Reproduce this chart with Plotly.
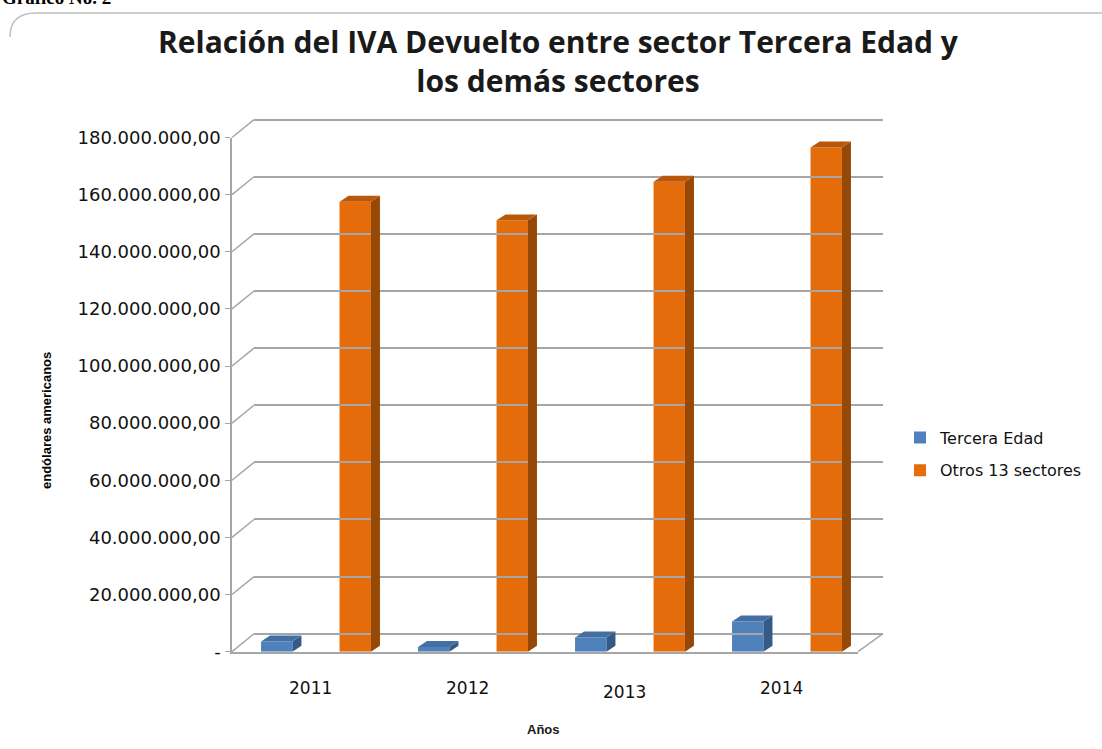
import plotly.graph_objects as go

# ---- data ----
years = ["2011", "2012", "2013", "2014"]
tercera_edad = [3.6e6, 1.6e6, 5.0e6, 10.6e6]
otros_sectores = [157.5e6, 151.0e6, 164.5e6, 176.5e6]
series_names = ["Tercera Edad", "Otros 13 sectores"]
y_tickvals = [0, 20e6, 40e6, 60e6, 80e6, 100e6, 120e6, 140e6, 160e6, 180e6]
y_ticktext = ["-", "20.000.000,00", "40.000.000,00", "60.000.000,00", "80.000.000,00",
              "100.000.000,00", "120.000.000,00", "140.000.000,00", "160.000.000,00",
              "180.000.000,00"]

W, H = 1102, 749
YMAX = 180e6
VS, VO = 0.9755, 10.0  # observed vertical mapping of the renderer


def px_x(p):
    return p / W


def dy_px(p):
    return (p - VO) / VS


def px_y(p):
    return 1 - dy_px(p) / H


# front plane and back wall (target pixel geometry)
front_x = (232, 858)
front_y = (653, 137)
back_x = (254, 883)
back_y = (635, 119)
unit_px = 157.0
x0_data = (front_x[0] - 316) / unit_px
x1_data = (front_x[1] - 316) / unit_px
px_per_val = (front_y[0] - front_y[1]) / YMAX

bar_w = 0.2
dx = 9 / unit_px
dy = 6 / px_per_val

colors = {
    "Tercera Edad": ("#4f81bd", "#436fa3", "#355a86"),
    "Otros 13 sectores": ("#e46c0a", "#b95808", "#974706"),
}

fig = go.Figure()

# back wall subplot (gridlines only)
fig.add_trace(go.Scatter(x=[0], y=[0], xaxis="x2", yaxis="y2", mode="markers",
                         marker=dict(opacity=0), showlegend=False, hoverinfo="skip"))

shapes = []
offsets = [-0.25, 0.25]
for s, (name, vals) in enumerate(zip(series_names, [tercera_edad, otros_sectores])):
    front, top, side = colors[name]
    xs = [i + offsets[s] for i in range(len(years))]
    for xc, v in zip(xs, vals):
        xl, xr = xc - bar_w / 2, xc + bar_w / 2
        shapes.append(dict(type="path", xref="x", yref="y", layer="above",
                           path=f"M {xr} 0 L {xr+dx} {dy} L {xr+dx} {v+dy} L {xr} {v} Z",
                           fillcolor=side, line=dict(width=0)))
        shapes.append(dict(type="path", xref="x", yref="y", layer="above",
                           path=f"M {xl} {v} L {xl+dx} {v+dy} L {xr+dx} {v+dy} L {xr} {v} Z",
                           fillcolor=top, line=dict(width=0)))
    fig.add_trace(go.Bar(x=xs, y=vals, width=bar_w, name=name, marker_color=front,
                         marker_line_width=0, legendgroup=name))

# diagonal connectors from front axis ticks to back wall
fy0, fy1 = px_y(front_y[0]), px_y(front_y[1])
by0, by1 = px_y(back_y[0]), px_y(back_y[1])
pad = 3
pad_val = pad / px_per_val
for v in y_tickvals:
    yf = fy0 + (v / YMAX) * (fy1 - fy0)
    yb = by0 + (v / YMAX) * (by1 - by0)
    shapes.append(dict(type="line", xref="paper", yref="paper",
                       x0=px_x(front_x[0]), y0=yf, x1=px_x(back_x[0]), y1=yb,
                       line=dict(color="#a6a6a6", width=1.5), layer="below"))
# floor right edge
shapes.append(dict(type="line", xref="paper", yref="paper",
                   x0=px_x(front_x[1]), y0=fy0, x1=px_x(back_x[1]), y1=by0,
                   line=dict(color="#a6a6a6", width=1.5), layer="below"))
# chart frame top line
shapes.append(dict(type="path", xref="paper", yref="paper",
                   path=f"M {px_x(10)} {px_y(36)} Q {px_x(10)} {px_y(12)} {px_x(36)} {px_y(12)} L {px_x(1102)} {px_y(12)}",
                   line=dict(color="#bfbfbf", width=1.5), layer="below"))

annotations = [
    dict(text="endólares americanos", x=px_x(37), y=px_y(421), xref="paper", yref="paper",
         textangle=-90, showarrow=False, yanchor="middle",
         font=dict(family="Liberation Sans Narrow, Liberation Sans", size=13, color="#000000", weight="bold")),
    dict(text="Años", x=px_x(543), y=px_y(731), xref="paper", yref="paper", showarrow=False,
         yanchor="middle",
         font=dict(family="Liberation Sans Narrow, Liberation Sans", size=13, color="#1a1a1a", weight="bold")),
    dict(text="Gráfico No. 2", x=0, y=px_y(9), xref="paper", yref="paper", xanchor="left",
         yanchor="bottom", showarrow=False,
         font=dict(family="Liberation Serif", size=19, color="#000000", weight="bold")),
]
label_y = [689, 689, 693, 689]
for i, (yr, ly) in enumerate(zip(years, label_y)):
    annotations.append(dict(text=yr, x=i, xref="x", y=px_y(ly), yref="paper", xshift=-6,
                            yanchor="middle", showarrow=False,
                            font=dict(family="DejaVu Sans", size=17, color="#111111")))

fig.update_layout(
    width=W, height=H,
    margin=dict(l=0, r=0, t=0, b=0),
    paper_bgcolor="white", plot_bgcolor="rgba(0,0,0,0)",
    title=dict(text="<b>Relación del IVA Devuelto entre sector Tercera Edad y<br>los demás sectores</b>",
               x=px_x(558), xanchor="center", y=px_y(62), yanchor="middle",
               font=dict(family="Open Sans", size=30, color="#1a1a1a")),
    barmode="overlay",
    xaxis=dict(domain=[px_x(front_x[0]), px_x(front_x[1])], range=[x0_data, x1_data],
               showgrid=False, zeroline=False, showline=True, linecolor="#a6a6a6", linewidth=1.5,
               showticklabels=False, ticks="", anchor="y"),
    yaxis=dict(domain=[fy0, fy1], range=[0, YMAX], tickvals=y_tickvals, ticktext=y_ticktext,
               showgrid=False, zeroline=False, showline=True, linecolor="#a6a6a6", linewidth=1.5,
               ticks="outside", ticklen=5, tickcolor="#a6a6a6", ticklabelstandoff=1,
               tickfont=dict(family="DejaVu Sans", size=18, color="#111111"), anchor="x"),
    xaxis2=dict(domain=[px_x(back_x[0]), px_x(back_x[1])], range=[0, 1], showgrid=False,
                zeroline=False, showticklabels=False, anchor="y2"),
    yaxis2=dict(domain=[px_y(back_y[0] + pad), px_y(back_y[1] - pad)],
                range=[-pad_val, YMAX + pad_val], tickvals=y_tickvals, showgrid=True,
                gridcolor="#a6a6a6", gridwidth=1.5, zeroline=False, showticklabels=False,
                anchor="x2"),
    legend=dict(x=px_x(900), y=px_y(421), xanchor="left", yanchor="top",
                font=dict(family="DejaVu Sans", size=16, color="#111111"),
                traceorder="grouped", tracegroupgap=9, bgcolor="rgba(0,0,0,0)",
                itemwidth=30),
    shapes=shapes,
    annotations=annotations,
    showlegend=True,
)

fig.write_html("out.html", config={"displayModeBar": False},
               post_script="document.body.style.margin='0';")
